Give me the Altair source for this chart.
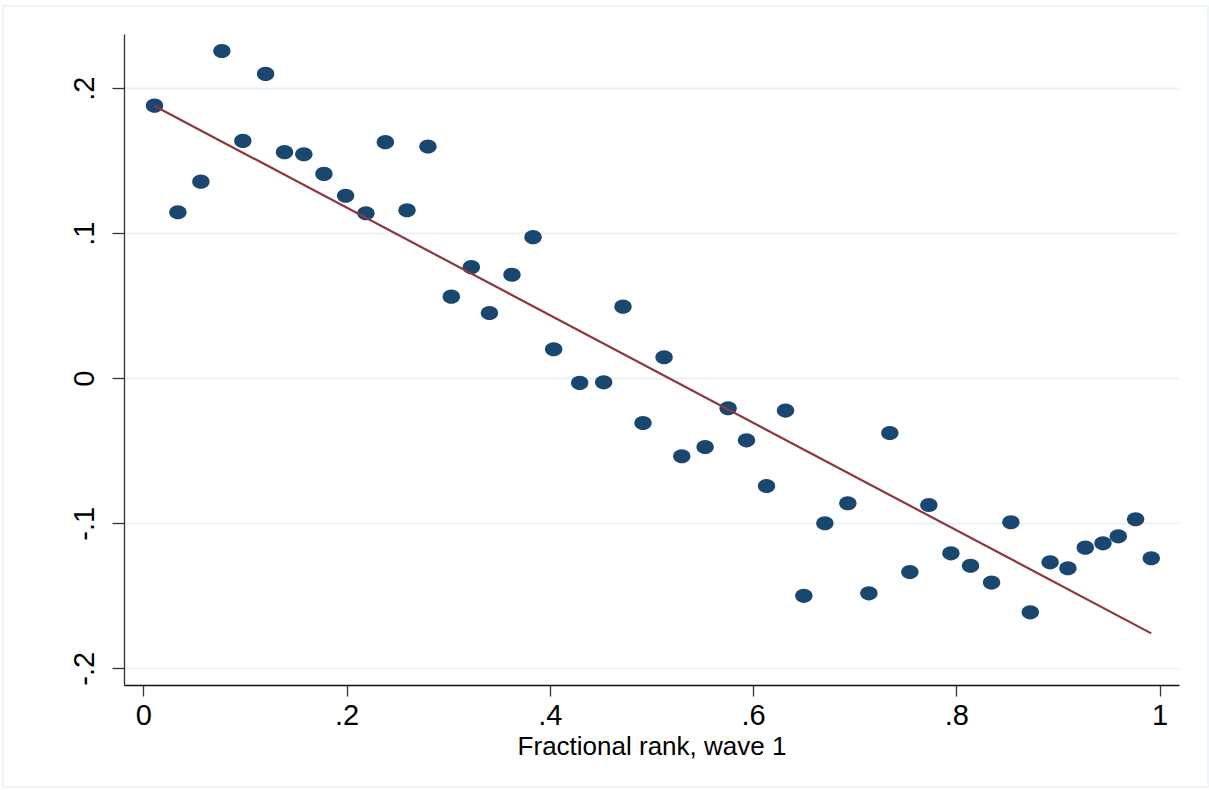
import altair as alt
import pandas as pd

# Binned scatter values
rank_x = [0.0111, 0.0341, 0.0567, 0.0774, 0.0980, 0.1204, 0.1390, 0.1580, 0.1778, 0.1991,
          0.2191, 0.2382, 0.2595, 0.2801, 0.3031, 0.3228, 0.3406, 0.3628, 0.3835, 0.4038,
          0.4294, 0.4530, 0.4720, 0.4917, 0.5124, 0.5298, 0.5528, 0.5754, 0.5935, 0.6132,
          0.6319, 0.6499, 0.6706, 0.6932, 0.7139, 0.7345, 0.7542, 0.7729, 0.7946, 0.8139,
          0.8346, 0.8536, 0.8727, 0.8922, 0.9097, 0.9268, 0.9442, 0.9593, 0.9763, 0.9917]
value_y = [0.1880, 0.1145, 0.1356, 0.2257, 0.1637, 0.2099, 0.1559, 0.1545, 0.1409, 0.1259,
           0.1138, 0.1628, 0.1159, 0.1598, 0.0563, 0.0766, 0.0450, 0.0714, 0.0973, 0.0200,
           -0.0032, -0.0028, 0.0494, -0.0308, 0.0145, -0.0538, -0.0474, -0.0207, -0.0428, -0.0743,
           -0.0223, -0.1500, -0.1000, -0.0862, -0.1483, -0.0377, -0.1336, -0.0874, -0.1207, -0.1293,
           -0.1409, -0.0993, -0.1614, -0.1269, -0.1310, -0.1168, -0.1138, -0.1090, -0.0972, -0.1241]

# Linear fit endpoints
fit_x = [0.0111, 0.9917]
fit_y = [0.1878, -0.1759]

x_ticks = [0, 0.2, 0.4, 0.6, 0.8, 1]
x_tick_labels = ["0", ".2", ".4", ".6", ".8", "1"]
y_ticks = [-0.2, -0.1, 0, 0.1, 0.2]
y_tick_labels = ["-.2", "-.1", "0", ".1", ".2"]

x_title = "Fractional rank, wave 1"


def label_expr(vals, labels):
    expr = "''"
    for v, l in reversed(list(zip(vals, labels))):
        expr = f"abs(datum.value - ({v})) < 1e-6 ? '{l}' : ({expr})"
    return expr


FONT = "Liberation Sans"
NAVY = "#1a476f"
MAROON = "#90353b"
GRID = "#eaf2f3"

pts = pd.DataFrame({"x": rank_x, "y": value_y})
fit = pd.DataFrame({"x": fit_x, "y": fit_y})

x_scale = alt.Scale(domain=[-0.0189, 1.019], nice=False, zero=False)
y_scale = alt.Scale(domain=[-0.2115, 0.2374], nice=False, zero=False)

x_axis = alt.Axis(
    values=x_ticks, labelExpr=label_expr(x_ticks, x_tick_labels), title=x_title,
    grid=False, domainColor="#111", domainWidth=1.3, tickColor="#333", tickSize=11,
    tickWidth=1.3, labelFont=FONT, labelFontSize=29, labelColor="#000", labelPadding=5,
    labelFlush=False, titleFont=FONT, titleFontSize=26, titleFontWeight="normal",
    titleColor="#000", titleBaseline="alphabetic", titleY=69,
)
y_axis = alt.Axis(
    values=y_ticks, labelExpr=label_expr(y_ticks, y_tick_labels), title=None,
    grid=True, gridColor=GRID, gridWidth=2, domainColor="#333", domainWidth=1.3,
    tickColor="#333", tickSize=12, tickWidth=1.3, labelFont=FONT, labelFontSize=29,
    labelColor="#000", labelAngle=270, labelAlign="center", labelBaseline="bottom",
    labelPadding=13, labelFlush=False,
)

ellipse = "M -1.23 0 A 1.23 1 0 1 0 1.23 0 A 1.23 1 0 1 0 -1.23 0 Z"

border = alt.Chart(pd.DataFrame({"a": [0]})).mark_rect(
    fill=None, stroke=GRID, strokeWidth=1.5
).encode(
    x=alt.value(-121), x2=alt.value(1084), y=alt.value(-28), y2=alt.value(753)
)

points = alt.Chart(pts).mark_point(
    shape=ellipse, filled=True, fill=NAVY, color=NAVY, opacity=1, size=200, strokeWidth=0
).encode(
    x=alt.X("x:Q", scale=x_scale, axis=x_axis),
    y=alt.Y("y:Q", scale=y_scale, axis=y_axis),
)

line = alt.Chart(fit).mark_line(color=MAROON, strokeWidth=2.2).encode(
    x=alt.X("x:Q", scale=x_scale),
    y=alt.Y("y:Q", scale=y_scale),
)

chart = alt.layer(border, points, line).properties(
    width=1055, height=651,
    autosize=alt.AutoSizeParams(type="none"),
    padding={"left": 124, "top": 34, "right": 30, "bottom": 105},
    background="white",
).configure_view(stroke=None)

chart.save("out.html", embed_options={"renderer": "svg", "actions": False})
